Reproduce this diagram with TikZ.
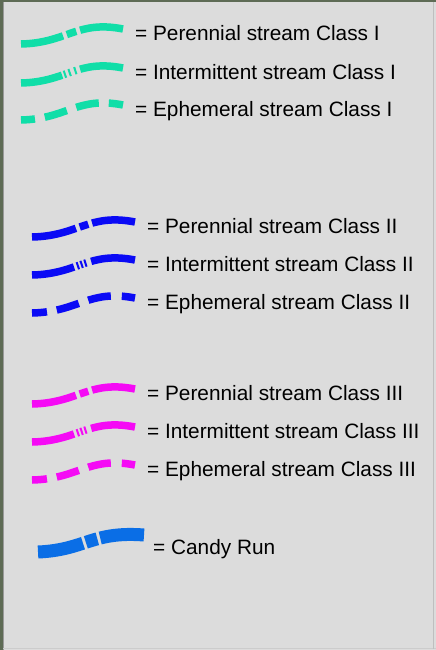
\documentclass[tikz,border=0pt]{standalone}
\usepackage{fontspec}
\setmainfont{Liberation Sans}
\definecolor{bgc}{HTML}{DCDCDC}
\definecolor{mapc}{HTML}{5E6B55}
\definecolor{teal1}{HTML}{10DEA8}
\definecolor{blue2}{HTML}{0A0AF5}
\definecolor{mag3}{HTML}{F50AF5}
\definecolor{candy}{HTML}{0A6EE6}
\tikzset{
  lbl/.style={anchor=base west, inner sep=0pt, font=\fontsize{20.8}{24}\selectfont},
  stream/.style={line width=7.5pt, line cap=butt},
  candystream/.style={line width=13pt, line cap=butt},
}
% #1 x0, #2 text y, #3 length, #4 style options
\newcommand{\streamcurve}[4]{%
  \draw[#4] (#1,#2+11) .. controls ({#1+0.45*#3},#2+10) and ({#1+0.55*#3},#2-13) .. ({#1+#3},#2-4);}
\begin{document}
\begin{tikzpicture}[x=1pt,y=-1pt]
\useasboundingbox (0,0) rectangle (436,650);
\fill[bgc] (0,0) rectangle (436,650);
\fill[mapc] (0,0) rectangle (3,650);
\fill[mapc] (0,0) rectangle (436,2);
\draw[black!40, line width=0.8pt] (3.4,2) -- (3.4,650);
\draw[white!80!black, line width=0.8pt] (3.4,648.6) -- (436,648.6);
\draw[black!25, line width=0.6pt] (433.5,2) -- (433.5,648.6);

% Class I
\streamcurve{21}{33}{102}{stream, teal1, dash pattern=on 43pt off 4pt on 10pt off 4pt on 60pt}
\streamcurve{21}{72}{102}{stream, teal1, dash pattern=on 42pt off 2pt on 2pt off 3pt on 2pt off 4pt on 2pt off 4pt on 60pt}
\streamcurve{21}{109}{102}{stream, teal1, dash pattern=on 14pt off 10pt on 23pt off 10pt on 23pt off 10pt on 20pt}
\node[lbl] (t1a) at (135,40.5) {= Perennial stream Class I};
\node[lbl] (t1b) at (135,79.5) {= Intermittent stream Class I};
\node[lbl] (t1c) at (135,116.5) {= Ephemeral stream Class I};

% Class II
\streamcurve{32}{226}{103}{stream, blue2, dash pattern=on 45pt off 4pt on 9pt off 4pt on 60pt}
\streamcurve{32}{264}{103}{stream, blue2, dash pattern=on 43pt off 3pt on 2pt off 2pt on 2pt off 2pt on 2pt off 5pt on 60pt}
\streamcurve{32}{302}{103}{stream, blue2, dash pattern=on 15pt off 10pt on 23pt off 10pt on 23pt off 11pt on 20pt}
\node[lbl] (t2a) at (147,233.5) {= Perennial stream Class II};
\node[lbl] (t2b) at (147,271.5) {= Intermittent stream Class II};
\node[lbl] (t2c) at (147,309.5) {= Ephemeral stream Class II};

% Class III
\streamcurve{32}{393}{103}{stream, mag3, dash pattern=on 45pt off 4pt on 9pt off 4pt on 60pt}
\streamcurve{32}{431}{103}{stream, mag3, dash pattern=on 43pt off 3pt on 2pt off 2pt on 2pt off 2pt on 2pt off 5pt on 60pt}
\streamcurve{32}{469}{103}{stream, mag3, dash pattern=on 15pt off 10pt on 23pt off 10pt on 23pt off 11pt on 20pt}
\node[lbl] (t3a) at (147,400.5) {= Perennial stream Class III};
\node[lbl] (t3b) at (147,438.5) {= Intermittent stream Class III};
\node[lbl] (t3c) at (147,476.5) {= Ephemeral stream Class III};

% Candy Run
\draw[candystream, candy, dash pattern=on 46pt off 3pt on 12pt off 3pt on 60pt]
  (38,552) .. controls (85,550) and (92,531) .. (144,535);
\node[lbl] (t4) at (153,554.5) {= Candy Run};
\end{tikzpicture}
\end{document}
